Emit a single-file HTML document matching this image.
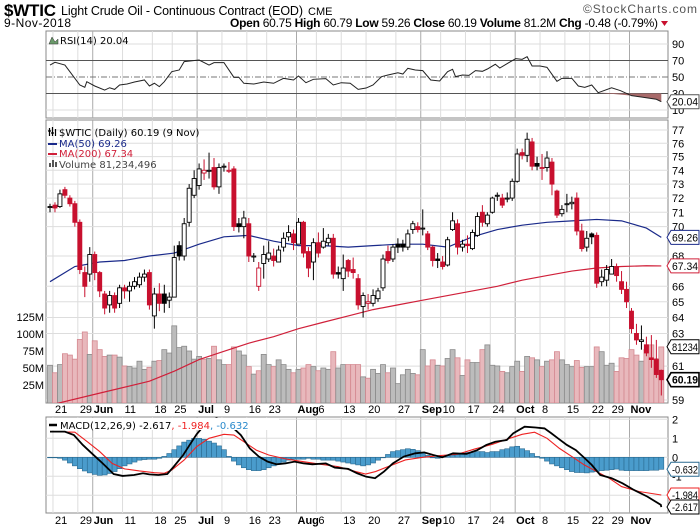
<!DOCTYPE html>
<html><head><meta charset="utf-8"><style>
html,body{margin:0;padding:0;background:#fff;}
svg{display:block;font-family:"Liberation Sans",sans-serif;}
.ax{font-size:11px;fill:#000;}
.lg{font-family:"DejaVu Sans",sans-serif;font-size:10px;}
</style></head><body>
<svg id="chart" width="700" height="530" viewBox="0 0 700 530"></svg>
<script>
const opens=[71.4,71.5,71.4,72.6,72.0,71.6,70.3,66.9,66.8,68.1,66.9,65.5,64.8,65.4,64.9,65.9,65.7,66.0,66.1,66.6,66.9,64.1,65.5,65.5,65.1,65.3,68.7,68.0,70.3,72.2,72.9,73.8,74.0,74.2,72.8,74.3,74.0,74.1,70.2,70.0,70.2,68.0,66.0,67.5,67.8,68.0,67.6,68.6,69.3,69.5,68.8,70.3,68.3,67.6,68.9,68.6,68.9,69.2,66.9,66.5,67.7,67.1,66.5,64.7,64.9,64.9,65.2,65.9,68.3,67.8,68.8,68.8,68.6,69.8,70.0,69.9,69.5,68.6,67.8,67.6,67.4,69.8,70.2,68.6,68.8,68.5,69.4,71.0,70.2,71.0,72.2,72.0,72.0,72.0,73.2,75.3,75.1,76.1,74.5,74.2,74.2,74.6,72.5,70.9,71.6,71.6,72.0,69.7,68.6,69.5,69.4,66.3,66.4,66.8,67.3,66.3,65.8,64.4,63.0,62.5,62.3,61.5,61.4,60.75];
const closes=[71.4,71.3,72.3,72.2,71.6,70.3,67.1,66.0,68.1,66.9,65.7,64.6,65.4,64.6,65.9,65.7,66.0,66.3,66.6,66.8,64.8,65.5,64.9,64.9,65.3,67.9,68.0,70.2,72.7,73.4,74.1,74.0,74.0,72.8,74.2,74.3,74.0,70.0,70.0,70.6,68.0,68.0,67.2,68.1,68.2,67.7,68.4,69.2,69.6,68.9,70.3,68.2,67.2,68.9,68.2,69.0,69.2,66.8,66.8,67.2,67.0,66.9,64.8,65.4,65.0,65.4,65.7,67.8,67.7,68.6,68.6,68.6,69.5,70.2,69.8,69.9,68.6,67.7,67.7,67.3,69.1,70.4,68.6,68.8,68.7,69.6,70.7,70.3,70.8,72.0,72.2,71.5,72.0,73.2,75.2,75.1,76.3,74.3,74.3,74.2,74.9,73.0,70.8,71.2,71.6,71.7,69.7,68.5,69.2,69.3,66.2,66.6,67.1,67.3,66.7,65.8,65.0,63.3,62.6,62.6,61.8,61.4,60.5,60.19];
const highs=[71.6,71.7,72.6,72.8,72.2,71.8,70.5,67.3,68.6,68.3,67.0,65.7,65.7,65.6,66.1,66.1,66.3,66.6,66.9,67.1,67.1,65.9,66.2,66.1,65.6,68.7,69.0,70.6,73.0,74.0,74.5,74.8,75.3,74.9,74.5,74.5,74.6,74.3,70.6,71.1,70.6,68.2,67.6,68.7,69.0,68.5,68.7,69.6,70.1,69.8,70.6,70.4,68.6,69.2,69.6,69.9,69.5,69.5,67.3,68.1,67.8,67.9,66.8,65.6,65.5,65.8,65.9,68.1,68.7,68.8,69.2,69.1,69.8,70.4,70.3,71.2,69.7,68.7,68.2,68.0,69.3,71.0,70.5,69.1,69.4,69.8,71.0,71.5,71.0,72.1,72.4,72.3,72.4,73.4,75.6,75.6,76.8,76.4,75.0,75.2,75.4,74.9,72.6,71.5,72.3,72.1,72.4,70.2,69.7,69.6,69.6,67.1,67.4,67.8,67.5,67.0,66.3,64.6,63.6,63.5,62.8,62.9,62.6,60.79];
const lows=[71.0,71.0,71.3,72.0,71.4,70.0,66.8,65.3,66.3,66.4,65.3,64.2,64.3,64.3,64.6,65.2,65.0,65.8,65.9,66.3,64.5,63.3,64.4,64.3,64.6,65.3,67.7,67.7,70.0,72.0,72.6,73.3,73.4,72.6,72.3,73.9,73.8,69.7,69.6,69.2,67.6,67.6,65.7,66.5,67.6,67.3,67.6,68.3,69.0,68.4,68.8,67.9,66.6,66.4,67.9,68.5,68.7,66.5,66.5,65.7,66.6,66.5,64.5,64.0,64.5,64.7,65.0,65.7,67.5,67.6,68.2,68.3,68.4,69.5,69.6,69.4,68.4,67.3,67.2,67.1,67.3,69.7,68.1,68.3,68.2,68.4,69.3,70.0,70.0,70.9,71.8,71.3,71.7,71.8,73.1,74.8,74.6,74.0,74.0,73.3,73.9,72.2,70.6,70.7,71.0,71.2,69.4,68.3,68.3,68.8,65.9,66.0,66.0,66.8,66.3,65.5,64.6,63.0,62.3,62.0,61.6,60.9,60.3,59.26];
const volumes=[54,43,55,71,69,63,92,103,70,90,77,67,69,69,66,53,52,50,60,48,51,60,61,77,72,112,80,82,75,63,67,63,64,82,62,55,55,81,75,69,52,41,46,70,55,52,62,55,48,43,48,50,55,52,46,50,48,74,50,55,55,55,55,37,35,48,42,55,43,50,27,40,48,42,40,77,53,62,54,53,64,77,65,39,62,58,58,77,84,54,53,45,43,52,60,45,67,65,62,52,60,62,74,62,55,52,61,51,52,52,81,74,54,57,45,65,64,77,69,60,77,84,64,81];
const ma50Day=[0,5,10,15,20,25,30,35,40,45,50,55,60,65,70,75,80,85,90,95,100,105,110,115,120,123];
const ma50Val=[66.3,67.3,67.6,67.7,68.0,68.2,68.8,69.3,69.4,69.0,68.7,68.7,68.6,68.7,68.8,68.8,68.6,69.3,69.8,70.1,70.3,70.4,70.5,70.4,69.9,69.26];
const ma200Day=[0,10,20,25,30,35,40,45,50,55,60,65,70,75,80,85,90,95,100,105,110,115,120,123];
const ma200Val=[58.7,59.4,60.1,60.7,61.4,61.9,62.4,62.8,63.3,63.7,64.1,64.5,64.8,65.1,65.4,65.7,66.0,66.4,66.7,67.0,67.2,67.3,67.35,67.34];
const rsiDay=[0,1,3,4,6,7,7.4,9,11,12,13,14,15.5,17,19,20,21,22,23,24.5,26,27,30,32,33,35,37,38,39,41,43,45,47,49,50,51.5,53,55.5,57,58.6,60.4,62,63.6,65,66.7,68,70,71,72,73.5,75,76.6,78.4,80,81,81.6,83,84.3,85.6,87,88,89.6,90.5,92.3,93.7,95,96,97,98.6,100,102,103,105,106.3,107.6,109,110.3,113,114.8,117,119.3,122,123];
const rsiVal=[64.5,67.8,64.5,56.5,40.3,37.5,44.3,39.1,34.2,37,35,40.3,41.5,43.9,46.4,39.1,42.4,38.3,44.3,56.5,58.5,68.6,70.6,64.5,67.4,67.4,49.6,49.6,42.4,41.5,43.9,42.4,48.4,46.4,51.2,43.1,47.2,48,40.3,43.1,42.4,35,36.6,40.3,50.4,52.4,55.2,53.6,60.5,58.5,57.7,46.4,45.2,56.5,59.3,50.4,52.4,52,57.7,56.9,59.7,65.4,60.9,67.4,72.2,71.4,74.6,63.3,63.3,61.7,44.8,48.4,48.4,39.1,37.5,40.3,31,37,33.4,27.4,25.4,23,20.04];
const macdDay=[0,3,4.8,6.6,8.4,10.6,12.8,14.6,16.9,18.7,20,21.8,23.6,24.9,26.8,28.1,29.5,30.5,32,33.5,35,36.6,38.4,40.2,42,43.8,45.6,47.4,49.2,51,52.8,55.5,57.3,60,61.8,63.6,65.4,67.2,69,71.2,73.5,75.3,77.1,78.9,81.1,83.8,86,87.8,89.6,91.9,93.2,95.5,97.7,99.5,100.9,102.2,104,105.8,107.6,109,110.7,113,115.2,117.5,120.2,122.9,123];
const macdVal=[1.35,1.35,1.17,0.65,0.21,-0.32,-0.88,-0.98,-0.93,-0.84,-0.9,-0.93,-0.88,-0.49,0.12,0.65,1.21,1.52,1.9,2.05,1.9,1.61,1.17,0.47,0.04,-0.23,-0.37,-0.32,-0.23,-0.32,-0.37,-0.32,-0.54,-0.61,-0.84,-1.02,-1.1,-0.75,-0.32,0.04,0.21,0.26,0.12,0,0.21,0.18,0.38,0.65,0.82,0.91,1.26,1.61,1.57,1.52,1.26,1.0,0.65,0.38,-0.05,-0.4,-0.93,-1.1,-1.37,-1.72,-2.07,-2.5,-2.617];
const sigDay=[0,5,7.5,10,12.5,15,18,21,23,24.5,27,29.5,32,35,37,39,41.5,44,47.5,51,54.5,58,61.5,63.5,65.5,68,71.5,75,78.5,82,85.5,89,92.5,95,97.5,100,102.5,105,107.5,110,112.5,115,118.5,123];
const sigVal=[1.35,1.32,0.82,0.3,-0.32,-0.61,-0.72,-0.81,-0.84,-0.67,-0.14,0.56,1.0,1.21,1.17,0.82,0.38,0.12,-0.09,-0.23,-0.37,-0.49,-0.75,-0.88,-0.75,-0.49,-0.14,0,0.09,0.16,0.44,0.68,1.0,1.21,1.32,1.0,0.47,0.04,-0.4,-0.75,-1.1,-1.54,-1.8,-1.984];
const histVal=[0,0,-0.05,-0.15,-0.3,-0.45,-0.6,-0.72,-0.82,-0.9,-0.95,-0.93,-0.85,-0.75,-0.6,-0.45,-0.35,-0.25,-0.15,-0.12,-0.1,-0.1,-0.05,0.05,0.2,0.4,0.6,0.8,0.9,1.0,1.0,0.95,0.85,0.75,0.6,0.4,0.05,-0.2,-0.4,-0.55,-0.65,-0.7,-0.7,-0.65,-0.55,-0.45,-0.35,-0.25,-0.15,-0.1,-0.1,-0.1,-0.05,-0.1,-0.1,-0.15,-0.15,-0.15,-0.2,-0.25,-0.3,-0.35,-0.4,-0.45,-0.4,-0.3,-0.15,0,0.15,0.3,0.35,0.4,0.45,0.42,0.35,0.25,0.1,0,-0.05,0.05,0.1,0.12,0.15,0.2,0.25,0.25,0.3,0.3,0.25,0.3,0.3,0.4,0.45,0.55,0.58,0.45,0.35,0.2,0.05,-0.05,-0.2,-0.35,-0.45,-0.55,-0.65,-0.75,-0.8,-0.8,-0.82,-0.78,-0.75,-0.7,-0.68,-0.65,-0.62,-0.68,-0.7,-0.7,-0.7,-0.7,-0.7,-0.68,-0.68,-0.632];
const tickDay=[1,6,9,15,21,25,30,35,40,44,50,54,59,64,70,75,79,84,89,94,99,104,109,113,117];
const tickText=['21','29','Jun','11','18','25','Jul','9','16','23','Aug','6','13','20','27','Sep','10','17','24','Oct','8','15','22','29','Nov'];
const tickMonth=[0,0,1,0,0,0,1,0,0,0,1,0,0,0,0,1,0,0,0,1,0,0,0,0,1];
const priceTicks=[77,76,75,74,73,72,71,70,68,66,65,64,63,61,59];
const volTicks=[125,100,75,50,25];
const rsiTicks=[90,70,50,30,10];
const macdTicks=[2,1,0,-1,-2];

const NS='http://www.w3.org/2000/svg';
const svg=document.getElementById('chart');
const L=46,R=668;
function xd(i){return 50+i*4.97;}
function yP(p){return 130+(Math.log(77)-Math.log(p))/0.2663*270;}
function yV(v){return 402-v*17/25;}
function yR(v){return 60.5+(70-v)*0.825;}
function yM(v){return 457.3-v*19;}
function mk(tag,at,parent){const e=document.createElementNS(NS,tag);for(const k in at)e.setAttribute(k,at[k]);(parent||svg).appendChild(e);return e;}
function txt(s,x,y,at,parent){const t=mk('text',Object.assign({x:x,y:y},at),parent);t.textContent=s;return t;}

const defs=mk('defs',{});
const cp=mk('clipPath',{id:'mainclip'},defs);mk('rect',{x:L,y:120,width:R-L,height:283},cp);
const cp2=mk('clipPath',{id:'macdclip'},defs);mk('rect',{x:L,y:417,width:R-L,height:96},cp2);
const cp3=mk('clipPath',{id:'rsiclip'},defs);mk('rect',{x:L,y:31,width:R-L,height:87},cp3);

let t;
t=txt('$WTIC',4,16,{'font-size':'17px','font-weight':'bold',textLength:52});

t=txt('Light Crude Oil - Continuous Contract (EOD)',61,15,{'font-size':'12.5px',textLength:242});

t=txt('CME',308,15,{'font-size':'11px'});

t=txt('\u00A9StockCharts.com',583,13,{'font-size':'12px',fill:'#555',textLength:114});

t=txt('9-Nov-2018',4,27,{'font-size':'12px',textLength:67});

t=mk('text',{x:230,y:27,'font-size':'12px',textLength:428});

t.innerHTML='<tspan font-weight="bold">Open</tspan> 60.75 <tspan font-weight="bold">High</tspan> 60.79 <tspan font-weight="bold">Low</tspan> 59.26 <tspan font-weight="bold">Close</tspan> 60.19 <tspan font-weight="bold">Volume</tspan> 81.2M <tspan font-weight="bold">Chg</tspan> -0.48 (-0.79%)';
t=mk('path',{d:'M661,21 L668,21 L664.5,26 Z',fill:'#c8102e'});


function panel(y,h,name){const r=mk('rect',{x:L,y:y,width:R-L,height:h,fill:'#fff',stroke:'#888','stroke-width':1});return r;}
panel(31,87,'rsi-panel');panel(120,283,'price-panel');panel(417,96,'macd-panel');

function vgrid(y1,y2){tickDay.forEach((d,k)=>{const l=mk('line',{x1:xd(d)-2,x2:xd(d)-2,y1:y1,y2:y2,stroke:tickMonth[k]?'#aaa':'#ddd','stroke-width':1});});}
vgrid(31,118);vgrid(120,403);vgrid(417,513);

rsiTicks.forEach(v=>{const l=mk('line',{x1:L,x2:R,y1:yR(v),y2:yR(v),stroke:(v==70||v==30)?'#555':(v==50?'#777':'#ddd'),'stroke-dasharray':v==50?'6,2,1,2':'none'});
 const tt=txt(String(v),672,yR(v)+4,{class:'ax'});});
{let pts=rsiDay.map((d,k)=>xd(d)+','+yR(rsiVal[k]));
 let fill=[];rsiDay.forEach((d,k)=>{if(d>=110&&rsiVal[k]<=31)fill.push(xd(d)+','+yR(rsiVal[k]));});
 const fp=mk('polygon',{points:fill.join(' ')+' '+xd(rsiDay[rsiDay.length-1])+','+yR(30)+' '+xd(115)+','+yR(30),fill:'#a86a6a','clip-path':'url(#rsiclip)'});
 
 const pl=mk('polyline',{points:pts.join(' '),fill:'none',stroke:'#222','stroke-width':1});
 }
t=mk('path',{d:'M49,44 L52,37 L55,42 L58,39 L58,44 Z',fill:'#6a9a6a',stroke:'#333','stroke-width':0.5});
t=txt('RSI(14) 20.04',60,44,{class:'lg'});
function tag(y,label,col,bold,name){const g=mk('g',{});
 mk('path',{d:`M667,${y} L671,${y-7} L699,${y-7} L699,${y+7} L671,${y+7} Z`,fill:'#fff',stroke:col,'stroke-width':bold?1.6:1},g);
 txt(label,672,y+4,{'font-size':'11px','font-weight':bold?'bold':'normal',fill:'#000',textLength:26,lengthAdjust:'spacingAndGlyphs'},g);}
tag(yR(20.04),'20.04','#555',false,'rsi-value-tag');

priceTicks.forEach(p=>{const l=mk('line',{x1:L,x2:R,y1:yP(p),y2:yP(p),stroke:'#ddd'});
 const tt=txt(String(p),672,yP(p)+4,{class:'ax'});});
volTicks.forEach(v=>{const tt=txt(v+'M',44,yV(v)+4,{class:'ax','text-anchor':'end'});});

const gm=mk('g',{'clip-path':'url(#mainclip)'});
volumes.forEach((v,i)=>{const down=i>0&&closes[i]<closes[i-1];
 const b=mk('rect',{x:xd(i)-2.5,y:yV(v),width:5,height:402-yV(v)+1,fill:down?'#e8b8bc':'#bcbcbc',stroke:down?'#d48890':'#8a8a8a','stroke-width':0.8},gm);
 });
{const p=mk('polyline',{points:ma200Day.map((d,k)=>xd(d)+','+yP(ma200Val[k])).join(' '),fill:'none',stroke:'#d0203a','stroke-width':1.2},gm);
 const q=mk('polyline',{points:ma50Day.map((d,k)=>xd(d)+','+yP(ma50Val[k])).join(' '),fill:'none',stroke:'#1a2a8a','stroke-width':1.2},gm);}
closes.forEach((c,i)=>{const o=opens[i];const down=i>0&&c<closes[i-1];const col=down?'#c8102e':'#000';const x=xd(i);
 const g=mk('g',{},gm);
 mk('line',{x1:x,x2:x,y1:yP(highs[i]),y2:yP(lows[i]),stroke:col,'stroke-width':1},g);
 const top=yP(Math.max(o,c)),bot=yP(Math.min(o,c));const h=Math.max(bot-top,1);
 mk('rect',{x:x-2,y:top,width:4,height:h,fill:c<o?col:'#fff',stroke:col,'stroke-width':0.9},g);});
mk('path',{d:'M49.5,128 v8 M52.5,127 v9 M55.5,129 v7 M48,131 h3 M51,133 h3',stroke:'#000','stroke-width':1.2,fill:'none'});
t=txt('$WTIC (Daily) 60.19 (9 Nov)',59,136,{class:'lg',fill:'#000'});
mk('line',{x1:48,x2:57,y1:144,y2:144,stroke:'#1a2a8a','stroke-width':2});
t=txt('MA(50) 69.26',59,147,{class:'lg',fill:'#1a2a8a'});
mk('line',{x1:48,x2:57,y1:154,y2:154,stroke:'#d0203a','stroke-width':2});
t=txt('MA(200) 67.34',59,157,{class:'lg',fill:'#d0203a'});
mk('path',{d:'M49,167 h2 v-4 h-2 z M52,167 h2 v-7 h-2 z M55,167 h2 v-5 h-2 z',fill:'#555'});
t=txt('Volume 81,234,496',59,168,{class:'lg',fill:'#444'});
tag(yP(69.26),'69.26','#1a2a8a',false,'ma50-value-tag');
tag(yP(67.34),'67.34','#d0203a',false,'ma200-value-tag');
tag(yV(81.2),'81234','#000',false,'volume-value-tag');
tag(yP(60.19),'60.19','#000',true,'price-value-tag');

function xlabels(y){tickDay.forEach((d,k)=>{const tt=txt(tickText[k],xd(d)+(tickMonth[k]?-1:0),y,{class:'ax','font-weight':tickMonth[k]?'bold':'normal','font-size':tickMonth[k]?'12px':'11px'});});}
xlabels(413);xlabels(524);

macdTicks.forEach(v=>{const l=mk('line',{x1:L,x2:R,y1:yM(v),y2:yM(v),stroke:'#ddd'});
 const tt=txt(String(v),672,yM(v)+4,{class:'ax'});});
const gc=mk('g',{'clip-path':'url(#macdclip)'});
histVal.forEach((v,i)=>{const y0=yM(0),y1=yM(v);const b=mk('rect',{x:xd(i)-2.5,y:Math.min(y0,y1),width:5,height:Math.max(Math.abs(y1-y0),0.5),fill:'#4a9ccc',stroke:'#2a6a90','stroke-width':0.6},gc);});
{const s=mk('polyline',{points:sigDay.map((d,k)=>xd(d)+','+yM(sigVal[k])).join(' '),fill:'none',stroke:'#ee2222','stroke-width':1.1},gc);
 const m=mk('polyline',{points:macdDay.map((d,k)=>xd(d)+','+yM(macdVal[k])).join(' '),fill:'none',stroke:'#000','stroke-width':1.8},gc);}
mk('rect',{x:47,y:418,width:232,height:12,fill:'#fff'});
mk('line',{x1:49,x2:57,y1:425,y2:425,stroke:'#000','stroke-width':2.5});
t=mk('text',{x:60,y:429,class:'lg'});
t.innerHTML='<tspan fill="#000">MACD(12,26,9) -2.617</tspan><tspan fill="#ee2222">, -1.984</tspan><tspan fill="#2a8acc">, -0.632</tspan>';
tag(yM(-0.632),'-0.632','#2a6a90',false,'macd-hist-tag');
tag(yM(-1.984),'-1.984','#ee2222',false,'macd-signal-tag');
tag(yM(-2.617),'-2.617','#000',false,'macd-value-tag');
</script>
</body></html>
